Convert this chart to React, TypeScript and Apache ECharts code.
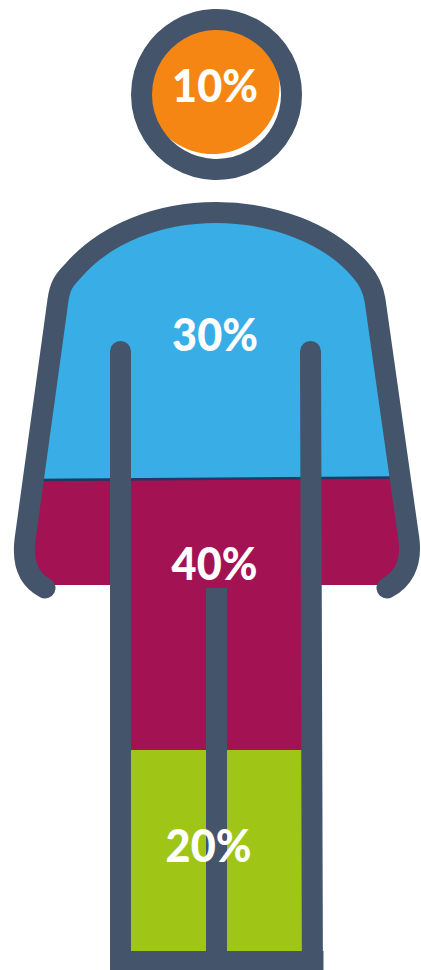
import React, { useEffect, useRef } from "react";
import * as echarts from "echarts";

// Share of each body segment, top to bottom.
const segmentNames = ["Head", "Torso", "Midsection", "Legs"];
const segmentValues = [10, 30, 40, 20];
const segmentColors = ["#F58613", "#39ADE6", "#A31353", "#9FC516"];

const OUTLINE = "#44546A";
const SEAM = "#1F3864";
const STROKE = 21;

// Silhouette geometry, in canvas pixels.
const SHOULDERS =
  "L 58 300 C 60 286 64 280 72 272 C 105 233 160 212.5 216 212.5 C 272 212.5 330 233 362 272 C 369 280 373 288 375 300";
const BLUE_PATH = `M 33 480 ${SHOULDERS} L 400 477 Z`;
const MAGENTA_PATH =
  "M 33 480 L 25 540 C 22 565 30 580 45 585 L 120 585 L 120 750 L 312 750 L 312 585 L 387 585 C 402 580 412 565 409 540 L 400 477 Z";
const GREEN_PATH = "M 120 750 L 312 750 L 312 951 L 120 951 Z";
const BODY_OUTLINE = `M 45 588 C 30 580 22 565 25 540 ${SHOULDERS} L 409 540 C 412 565 402 580 387 588`;
const labelCentres = [
  [215, 84],
  [215, 333],
  [214.5, 562],
  [208.5, 844],
];

function renderSegment(_params: any, api: any) {
  const i = api.value(0);
  const fill = segmentColors[i];
  if (i === 0) {
    return { type: "circle", shape: { cx: 212.5, cy: 87, r: 67 }, style: { fill } };
  }
  const pathData = [BLUE_PATH, MAGENTA_PATH, GREEN_PATH][i - 1];
  return { type: "path", shape: { pathData }, style: { fill } };
}

function renderOutline() {
  const stroke = { fill: "none", stroke: OUTLINE, lineWidth: STROKE };
  const round = { ...stroke, lineCap: "round", lineJoin: "round" };
  return {
    type: "group",
    children: [
      { type: "line", shape: { x1: 36, y1: 480, x2: 398, y2: 477.5 }, style: { stroke: SEAM, lineWidth: 2.5 } },
      { type: "circle", shape: { cx: 216.5, cy: 94.5, r: 75 }, style: stroke },
      { type: "path", shape: { pathData: BODY_OUTLINE }, style: round },
      { type: "path", shape: { pathData: "M 120.5 351.5 L 120.5 990" }, style: round },
      { type: "path", shape: { pathData: "M 310.5 351.5 L 312.5 990" }, style: round },
      { type: "path", shape: { pathData: "M 216.5 588 L 216.5 990" }, style: stroke },
      { type: "rect", shape: { x: 110, y: 951, width: 213.5, height: 40 }, style: { fill: OUTLINE } },
    ],
  };
}

function renderLabel(_params: any, api: any) {
  const i = api.value(0);
  const [x, y] = labelCentres[i];
  return {
    type: "text",
    x,
    y,
    scaleX: 0.96,
    style: {
      text: `${segmentValues[i]}%`,
      fill: "#FFFFFF",
      fontFamily: "Lato",
      fontWeight: 900,
      fontSize: 45,
      textAlign: "center",
      textVerticalAlign: "middle",
    },
  };
}

export default function App() {
  const ref = useRef<HTMLDivElement>(null);

  useEffect(() => {
    document.body.style.margin = "0";
    const chart = echarts.init(ref.current, undefined, { renderer: "svg" });
    const rows = segmentNames.map((name, i) => ({ name, value: [i, segmentValues[i]] }));
    chart.setOption({
      animation: false,
      backgroundColor: "#FFFFFF",
      series: [
        { type: "custom", coordinateSystem: "none", silent: true, z: 1, data: rows, renderItem: renderSegment },
        { type: "custom", coordinateSystem: "none", silent: true, z: 2, data: [0], renderItem: renderOutline },
        { type: "custom", coordinateSystem: "none", silent: true, z: 3, data: rows, renderItem: renderLabel },
      ],
    });
    return () => chart.dispose();
  }, []);

  return <div ref={ref} style={{ width: 421, height: 970 }} />;
}
